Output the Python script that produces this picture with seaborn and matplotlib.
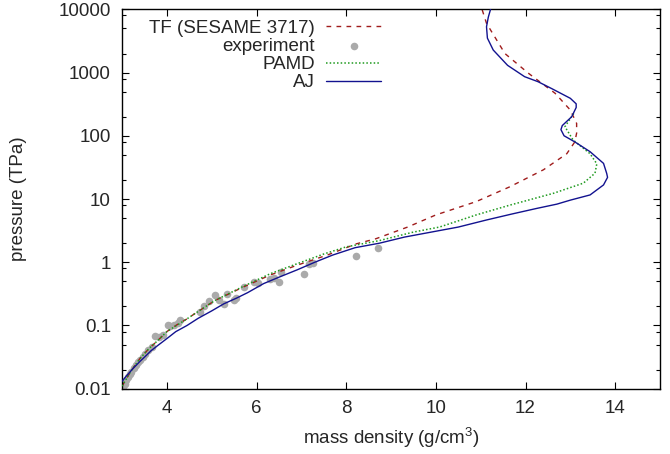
import matplotlib
matplotlib.use("Agg")
import matplotlib.pyplot as plt
import seaborn as sns
from matplotlib.ticker import FixedLocator, LogLocator, NullFormatter, NullLocator

# Thomas-Fermi model (SESAME 3717), density in g/cm3, pressure in TPa
tf_density = [3.0, 3.2, 3.4, 3.6, 3.81, 4.0, 4.2, 4.44, 4.66, 5.08, 5.72, 6.31,
              6.91, 7.58, 8.22, 8.66, 9.37, 10.0, 10.9, 11.65, 12.4, 12.92,
              13.1, 13.14, 13.14, 13.0, 12.66, 12.06, 11.54, 11.13, 11.03]
tf_pressure = [0.011, 0.019, 0.03, 0.043, 0.059, 0.08, 0.1, 0.126, 0.16, 0.25,
               0.41, 0.63, 0.9, 1.3, 1.95, 2.35, 3.6, 5.6, 9.1, 15.6, 29, 52,
               80, 110, 157, 255, 470, 980, 2000, 6000, 10000]

# PAMD
pamd_density = [3.0, 3.2, 3.4, 3.6, 3.81, 4.0, 4.44, 4.66, 5.08, 5.72, 6.31,
                6.91, 7.5, 8.0, 8.74, 9.5, 10.08, 10.9, 11.65, 12.62, 13.29,
                13.55, 13.59, 13.44, 13.06, 12.88, 13.1]
pamd_pressure = [0.011, 0.019, 0.03, 0.043, 0.059, 0.08, 0.126, 0.16, 0.25,
                 0.42, 0.66, 0.95, 1.35, 1.75, 2.2, 3.0, 3.6, 5.6, 8.0, 12.3,
                 17.8, 25.6, 36, 52, 86, 139, 240]

# AJ
aj_density = [2.98, 3.1, 3.25, 3.4, 3.51, 3.65, 3.81, 4.0, 4.2, 4.45, 4.7,
              5.0, 5.27, 5.55, 5.8, 6.16, 6.5, 6.91, 7.3, 7.7, 8.2, 8.74, 9.3,
              9.9, 10.5, 11.13, 11.7, 12.25, 12.7, 13.0, 13.44, 13.74, 13.83,
              13.81, 13.74, 13.44, 13.1, 12.86, 12.79, 12.82, 13.03, 13.13,
              13.13, 13.0, 12.6, 12.28, 11.98, 11.6, 11.28, 11.15, 11.13,
              11.17, 11.22]
aj_pressure = [0.0125, 0.016, 0.021, 0.027, 0.032, 0.04, 0.049, 0.062, 0.08,
               0.1, 0.13, 0.17, 0.22, 0.27, 0.33, 0.46, 0.58, 0.76, 1.0, 1.3,
               1.7, 2.0, 2.5, 3.0, 3.6, 4.66, 5.8, 7.1, 8.3, 9.6, 11.6, 16.7,
               22, 25.5, 36.6, 56, 80, 100, 125, 145, 200, 280, 320, 391, 550,
               716, 860, 1300, 2270, 3500, 5300, 7500, 10000]

# experimental data
exp_density = [3.03, 3.06, 3.1, 3.13, 3.18, 3.21, 3.27, 3.32, 3.36, 3.40,
               3.47, 3.52, 3.58, 3.66, 3.73, 3.83, 3.92, 4.03, 4.08, 4.17,
               4.25, 4.29, 4.75, 4.82, 4.93, 5.08, 5.16, 5.27, 5.34, 5.49,
               5.55, 5.72, 5.94, 6.03, 6.31, 6.38, 6.50, 6.54, 7.06, 7.17,
               7.25, 8.22, 8.72]
exp_pressure = [0.0105, 0.012, 0.0135, 0.0155, 0.017, 0.0186, 0.021, 0.0236,
                0.026, 0.028, 0.032, 0.036, 0.041, 0.046, 0.068, 0.066, 0.072,
                0.1, 0.098, 0.1, 0.108, 0.12, 0.166, 0.2, 0.24, 0.3, 0.25,
                0.22, 0.32, 0.25, 0.27, 0.41, 0.49, 0.47, 0.54, 0.57, 0.48,
                0.71, 0.65, 0.94, 0.97, 1.25, 1.7]

y_ticks = [0.01, 0.1, 1, 10, 100, 1000, 10000]
y_tick_labels = ["0.01", "0.1", "1", "10", "100", "1000", "10000"]
x_ticks = [4, 6, 8, 10, 12, 14]

sns.set_style("ticks")
plt.rcParams["font.family"] = ["Liberation Sans", "DejaVu Sans"]
plt.rcParams["font.size"] = 13.5
plt.rcParams["mathtext.fontset"] = "custom"
plt.rcParams["mathtext.rm"] = "Liberation Sans"

fig = plt.figure(figsize=(6.7, 4.54), dpi=100)
ax = fig.add_axes([0.1821, 0.1438, 0.803, 0.8357])
ax.set_yscale("log")

sns.scatterplot(x=exp_density, y=exp_pressure, ax=ax, color="#aaaaaa", s=30,
                linewidth=0, zorder=1)
sns.lineplot(x=tf_density, y=tf_pressure, ax=ax, sort=False, estimator=None,
             color="#a01c1c", lw=1.0, linestyle=(0, (3.4, 3.8)), zorder=2)
sns.lineplot(x=pamd_density, y=pamd_pressure, ax=ax, sort=False, estimator=None,
             color="#1f9a1f", lw=1.1, linestyle=(0, (1.0, 1.4)), zorder=3)
sns.lineplot(x=aj_density, y=aj_pressure, ax=ax, sort=False, estimator=None,
             color="#12128f", lw=1.0, zorder=4)

tf_line, pamd_line, aj_line = ax.lines[:3]
exp_points = ax.collections[0]
ax.legend([tf_line, exp_points, pamd_line, aj_line],
          ["TF (SESAME 3717)", "experiment", "PAMD", "AJ"],
          loc="upper right", bbox_to_anchor=(0.481, 0.972), frameon=False,
          markerfirst=False, handlelength=2.9, handletextpad=0.6,
          labelspacing=0.05, borderpad=0.0, borderaxespad=0.0,
          scatterpoints=1, fontsize=13.5)

ax.set_xlim(3, 15)
ax.set_ylim(0.01, 10000)
ax.xaxis.set_major_locator(FixedLocator(x_ticks))
ax.xaxis.set_minor_locator(NullLocator())
ax.set_yticks(y_ticks, y_tick_labels)
ax.yaxis.set_minor_locator(LogLocator(base=10, subs=(2, 5, 8)))
ax.yaxis.set_minor_formatter(NullFormatter())

ax.tick_params(which="both", direction="in", top=True, right=True,
               color="black", width=0.8, labelsize=13.5)
ax.tick_params(which="major", length=5, pad=8)
ax.tick_params(which="minor", length=3)
for spine in ax.spines.values():
    spine.set_linewidth(1.0)
    spine.set_color("black")

ax.set_xlabel("mass density (g/cm$^3$)", fontsize=13.5, labelpad=6)
ax.set_ylabel("pressure (TPa)", fontsize=13.5, labelpad=23)

fig.savefig("out.png", dpi=100)
